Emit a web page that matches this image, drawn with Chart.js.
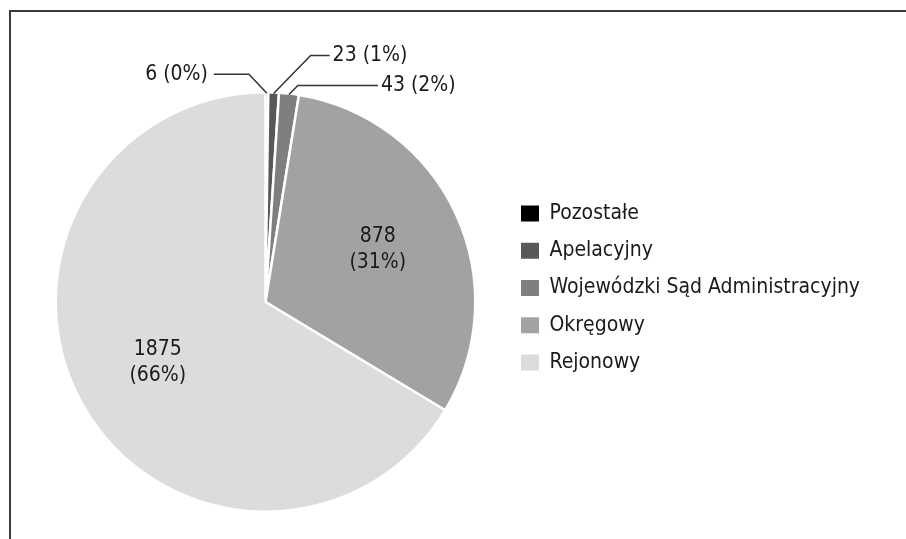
<!DOCTYPE html>
<html lang="pl">
<head>
  <meta charset="UTF-8" />
  <title>Sprawy według rodzaju sądu</title>
  <script src="https://cdn.jsdelivr.net/npm/chart.js"></script>
  <style>
    html, body { margin: 0; padding: 0; background: #fff; }
    .chart-box { position: relative; width: 906px; height: 539px; }
    /* thin frame: only top and left edges are visible in the original */
    .frame {
      position: absolute; left: 9px; top: 10px; right: 0; bottom: 0;
      border-top: 2px solid #3a3a3a; border-left: 2px solid #3a3a3a;
    }
    #courtChart { position: relative; z-index: 1; }
  </style>
</head>
<body>
  <div class="chart-box">
    <div class="frame"></div>
    <canvas id="courtChart"></canvas>
  </div>

  <script>
    const courtLabels = ["Pozostałe", "Apelacyjny", "Wojewódzki Sąd Administracyjny", "Okręgowy", "Rejonowy"];
    const caseCounts = [6, 23, 43, 878, 1875];
    const sliceColors = ["#000000", "#58585a", "#7f7f82", "#a2a2a5", "#dcdcde"];

    const fontFamily = '"DejaVu Sans Condensed", "Liberation Sans Narrow", sans-serif';

    // leader lines for the tiny slices (elbow offset from the slice edge, then horizontal run)
    const callouts = [
      { elbowX: -18, elbowY: -19, run: -35 },
      { elbowX: 37, elbowY: -38, run: 19 },
      { elbowX: 9, elbowY: -9, run: 80 },
      null,
      null
    ];
    const insideRadius = 0.59;

    const sliceLabels = {
      id: "sliceLabels",
      afterDatasetsDraw(chart) {
        const ctx = chart.ctx;
        const meta = chart.getDatasetMeta(0);
        const total = caseCounts.reduce((a, b) => a + b, 0);
        ctx.save();
        ctx.font = "21px " + fontFamily;
        ctx.fillStyle = "#1a1a1a";
        ctx.strokeStyle = "#333";
        ctx.lineWidth = 1.5;
        ctx.textBaseline = "middle";
        meta.data.forEach((arc, i) => {
          const p = arc.getProps(["x", "y", "startAngle", "endAngle", "outerRadius"], true);
          const mid = (p.startAngle + p.endAngle) / 2;
          const pct = Math.round(caseCounts[i] / total * 100);
          const c = callouts[i];
          if (c) {
            const ax = p.x + Math.cos(mid) * (p.outerRadius - 1);
            const ay = p.y + Math.sin(mid) * (p.outerRadius - 1);
            const ex = ax + c.elbowX, ey = ay + c.elbowY;
            const tx = ex + c.run;
            ctx.beginPath();
            ctx.moveTo(ax, ay);
            ctx.lineTo(ex, ey);
            ctx.lineTo(tx, ey);
            ctx.stroke();
            ctx.textAlign = c.run < 0 ? "right" : "left";
            ctx.fillText(caseCounts[i] + " (" + pct + "%)", tx + (c.run < 0 ? -6 : 3), ey);
          } else {
            const r = p.outerRadius * insideRadius;
            const cx = p.x + Math.cos(mid) * r;
            const cy = p.y + Math.sin(mid) * r;
            ctx.textAlign = "center";
            ctx.fillText(String(caseCounts[i]), cx, cy - 13);
            ctx.fillText("(" + pct + "%)", cx, cy + 13);
          }
        });
        ctx.restore();
      }
    };

    // legend sits a bit higher than the pie centre in the original,
    // and gets the rest of the width so the long label is not cut off
    const legendNudge = {
      id: "legendNudge",
      afterLayout(chart) {
        const lg = chart.legend;
        lg.top -= 14;
        lg.bottom -= 14;
        lg.right = chart.width;
        lg.width = chart.width - lg.left;
      }
    };

    new Chart(document.getElementById("courtChart"), {
      type: "pie",
      data: {
        labels: courtLabels,
        datasets: [{
          data: caseCounts,
          backgroundColor: sliceColors,
          borderColor: "#ffffff",
          borderWidth: 2.5
        }]
      },
      options: {
        responsive: true,
        maintainAspectRatio: false,
        animation: false,
        layout: { padding: { top: 91, bottom: 26, left: 26.25, right: 61.25 } },
        plugins: {
          tooltip: { enabled: false },
          legend: {
            position: "right",
            maxWidth: 340,
            labels: {
              boxWidth: 18,
              boxHeight: 16,
              padding: 16.25,
              color: "#1a1a1a",
              font: { family: fontFamily, size: 21 },
              generateLabels(chart) {
                const items = Chart.overrides.pie.plugins.legend.labels.generateLabels(chart);
                items.forEach(it => { it.lineWidth = 0; it.strokeStyle = it.fillStyle; });
                return items;
              }
            }
          }
        },
        events: []
      },
      plugins: [sliceLabels, legendNudge]
    });
  </script>
</body>
</html>
